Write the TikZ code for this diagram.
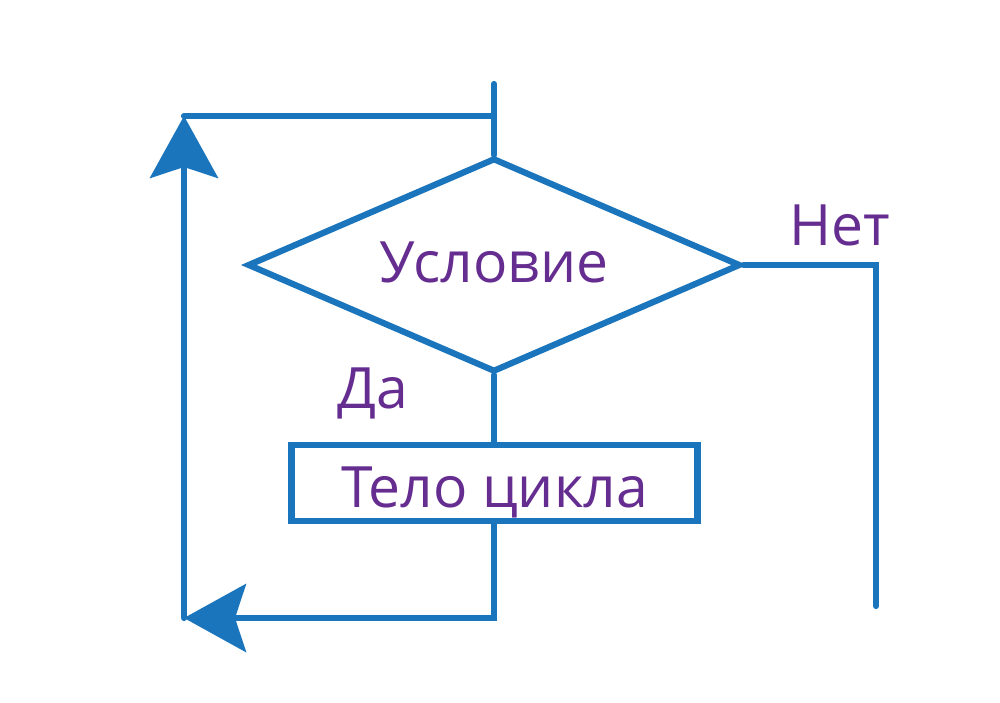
\documentclass[tikz,border=0pt]{standalone}
\usepackage{fontspec}
\setmainfont{Open Sans}
\usetikzlibrary{shapes.geometric,arrows.meta}
\definecolor{lineblue}{HTML}{1B75BC}
\definecolor{txtpurple}{HTML}{662D91}
\begin{document}
\begin{tikzpicture}[x=1pt,y=-1pt,
  flow/.style={draw=lineblue, line width=6.2pt, line cap=round},
  txt/.style={text=txtpurple, font=\fontsize{57}{68}\selectfont},
  lbl/.style={txt, inner sep=0pt},
  cond/.style={flow, txt, diamond, shape aspect=2.3, minimum width=493pt, minimum height=214pt, inner sep=0pt, text height=43pt, text depth=9pt},
  body/.style={flow, txt, rectangle, minimum width=406pt, minimum height=76pt, inner sep=0pt, text height=49pt, text depth=0pt},
  arr/.style={-{Stealth[length=62pt,width=68pt,inset=11pt]}}
]
\useasboundingbox (0,0) rectangle (1000,702);
\node[cond] (cond) at (494,265) {Условие};
\node[body] (body) at (494.5,483) {Тело цикла};
\node[lbl, anchor=base west] (yes) at (337,408) {Да};
\node[lbl, anchor=base west] (no) at (789,245) {Нет};
\coordinate (topend) at (494,84);
\coordinate (tl) at (184,116);
\coordinate (tj) at (494,116);
\coordinate (bl) at (184,618);
\coordinate (rc) at (876,265);
\coordinate (rend) at (876,606);
\draw[flow] (topend) -- (cond.north);
\draw[flow] (tj) -- (tl);
\draw[flow, arr] (bl) -- (tl);
\draw[flow] (cond.east) -- (rc) -- (rend);
\draw[flow] (cond.south) -- (cond.south |- body.north);
\draw[flow, arr] (cond.south |- body.south) -- (cond.south |- bl) -- (bl);
\end{tikzpicture}
\end{document}
